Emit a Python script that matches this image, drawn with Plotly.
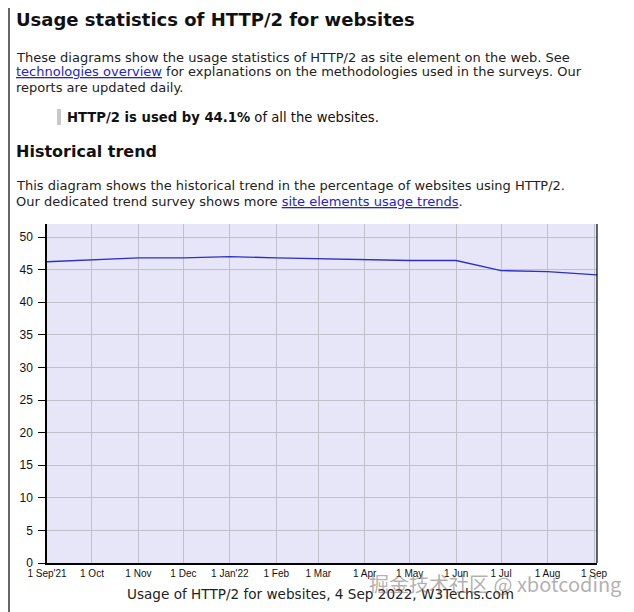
import plotly.graph_objects as go

# ---- data ----
dates = ["2021-09-01", "2021-10-01", "2021-11-01", "2021-12-01", "2022-01-01",
         "2022-02-01", "2022-03-01", "2022-04-01", "2022-05-01", "2022-06-01",
         "2022-07-01", "2022-08-01", "2022-09-03"]
usage = [46.2, 46.5, 46.8, 46.8, 47.0, 46.8, 46.65, 46.5, 46.4, 46.4, 44.85, 44.7, 44.2]

tick_dates = ["2021-09-01", "2021-10-01", "2021-11-01", "2021-12-01", "2022-01-01",
              "2022-02-01", "2022-03-01", "2022-04-01", "2022-05-01", "2022-06-01",
              "2022-07-01", "2022-08-01", "2022-09-01"]
tick_labels = ["1 Sep'21", "1 Oct", "1 Nov", "1 Dec", "1 Jan'22", "1 Feb", "1 Mar",
               "1 Apr", "1 May", "1 Jun", "1 Jul", "1 Aug", "1 Sep"]
y_ticks = [0, 5, 10, 15, 20, 25, 30, 35, 40, 45, 50]

# page offset (browser body margin)
OFF = 8
W, H = 634 - OFF, 612 - OFF
L, R, T, B = 47 - OFF, 37, 224 - OFF, 49
PW, PH = W - L - R, H - T - B


def px(x):
    return (x - OFF - L) / PW


def py(y):
    return (H - B - (y - OFF)) / PH


PAGE_FONT = "DejaVu Sans"
LINK = "#2424c8"
TX = 14  # left text edge (annotation padding compensated)

fig = go.Figure()
fig.add_trace(go.Scatter(x=dates, y=usage, mode="lines",
                         line=dict(color="#2f2fc4", width=1.4),
                         hoverinfo="skip", showlegend=False))

annotations = [
    dict(x=px(TX), y=py(19), text="<b>Usage statistics of HTTP/2 for websites</b>",
         font=dict(family=PAGE_FONT, size=18, color="#111111")),
    dict(x=px(TX), y=py(57),
         text="These diagrams show the usage statistics of HTTP/2 as site element on the web. See",
         font=dict(family=PAGE_FONT, size=13, color="#222222")),
    dict(x=px(TX), y=py(72),
         text=f"<span style='color:{LINK};text-decoration:underline'>technologies overview</span> for explanations on the methodologies used in the surveys. Our",
         font=dict(family=PAGE_FONT, size=13, color="#222222")),
    dict(x=px(TX), y=py(88), text="reports are updated daily.",
         font=dict(family=PAGE_FONT, size=13, color="#222222")),
    dict(x=px(65), y=py(117), text="<b>HTTP/2 is used by 44.1%</b> of all the websites.",
         font=dict(family=PAGE_FONT, size=13.2, color="#111111")),
    dict(x=px(TX), y=py(151), text="<b>Historical trend</b>",
         font=dict(family=PAGE_FONT, size=16, color="#111111")),
    dict(x=px(TX), y=py(185),
         text="This diagram shows the historical trend in the percentage of websites using HTTP/2.",
         font=dict(family=PAGE_FONT, size=13, color="#222222")),
    dict(x=px(TX), y=py(201),
         text=f"Our dedicated trend survey shows more <span style='color:{LINK};text-decoration:underline'>site elements usage trends</span>.",
         font=dict(family=PAGE_FONT, size=13, color="#222222")),
]
for a in annotations:
    a.update(xref="paper", yref="paper", xanchor="left", yanchor="middle",
             showarrow=False, align="left")

annotations.append(dict(x=px(320), y=py(594), xref="paper", yref="paper",
                        xanchor="center", yanchor="middle", showarrow=False,
                        text="Usage of HTTP/2 for websites, 4 Sep 2022, W3Techs.com",
                        font=dict(family=PAGE_FONT, size=13.6, color="#222222")))
annotations.append(dict(x=px(495), y=py(583), xref="paper", yref="paper",
                        xanchor="center", yanchor="middle", showarrow=False,
                        text="掘金技术社区 @ xbotcoding",
                        font=dict(family="Noto Sans CJK SC", size=20,
                                  color="rgba(110,110,110,0.55)")))

shapes = [
    # right border of plot
    dict(type="line", xref="paper", yref="paper", x0=1, x1=1, y0=0, y1=1,
         line=dict(color="black", width=1.2)),
    # quote bar
    dict(type="rect", xref="paper", yref="paper", x0=px(57), x1=px(61),
         y0=py(125), y1=py(109), line=dict(width=0), fillcolor="#c8c8c8"),
    # left page border
    dict(type="line", xref="paper", yref="paper", x0=px(9), x1=px(9),
         y0=py(8), y1=py(612), line=dict(color="black", width=1.2)),
    # right page elements
    dict(type="line", xref="paper", yref="paper", x0=px(630), x1=px(630),
         y0=py(8), y1=py(150), line=dict(color="black", width=1.2)),
    dict(type="line", xref="paper", yref="paper", x0=px(630), x1=px(634),
         y0=py(150), y1=py(150), line=dict(color="black", width=1.2)),
    dict(type="rect", xref="paper", yref="paper", x0=px(630), x1=px(640),
         y0=py(430), y1=py(180), line=dict(width=0), fillcolor="#2e4451"),
    dict(type="line", xref="paper", yref="paper", x0=px(630), x1=px(634),
         y0=py(462), y1=py(462), line=dict(color="black", width=1.2)),
    dict(type="line", xref="paper", yref="paper", x0=px(630), x1=px(634),
         y0=py(513), y1=py(513), line=dict(color="black", width=1.2)),
    dict(type="line", xref="paper", yref="paper", x0=px(630), x1=px(630),
         y0=py(462), y1=py(612), line=dict(color="black", width=1.2)),
]

fig.update_layout(
    width=W, height=H, autosize=False,
    margin=dict(l=L, r=R, t=T, b=B, pad=0),
    paper_bgcolor="white", plot_bgcolor="#e6e6f8",
    annotations=annotations, shapes=shapes,
    xaxis=dict(type="date", range=["2021-09-01", "2022-09-03"],
               tickvals=tick_dates, ticktext=tick_labels,
               showgrid=True, gridcolor="#c0c0cc", gridwidth=1,
               showline=True, linecolor="black", linewidth=1.5,
               ticks="", tickfont=dict(family="Liberation Sans", size=10, color="#111111"),
               zeroline=False, fixedrange=True),
    yaxis=dict(range=[0, 52], tickvals=y_ticks,
               showgrid=True, gridcolor="#c0c0cc", gridwidth=1,
               showline=True, linecolor="black", linewidth=1.5,
               ticks="outside", ticklen=7, tickcolor="black", tickwidth=1,
               ticklabelstandoff=3,
               tickfont=dict(family="Liberation Sans", size=12, color="#111111"),
               zeroline=False, fixedrange=True),
)

fig.write_html("out.html", config=dict(displayModeBar=False))
